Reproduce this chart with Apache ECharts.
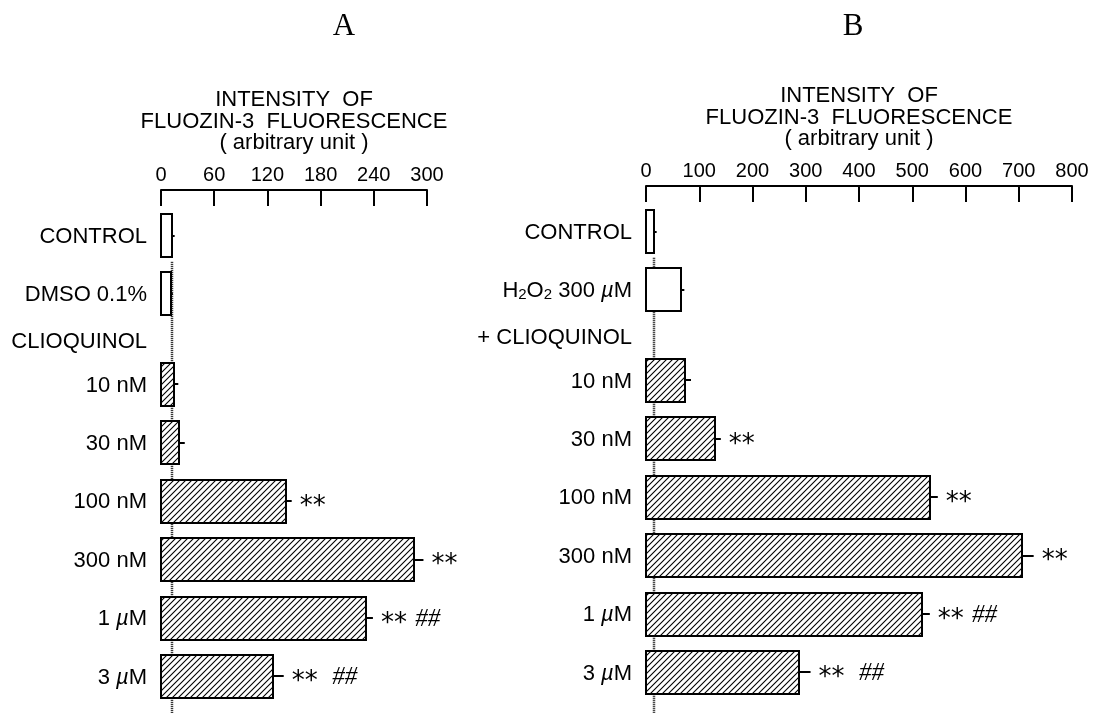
<!DOCTYPE html>
<html>
<head>
<meta charset="utf-8">
<script src="https://cdn.jsdelivr.net/npm/echarts@6/dist/echarts.min.js"></script>
<style>
  html, body { margin: 0; padding: 0; background: #fff; }
  #chart { width: 1094px; height: 713px; }
</style>
</head>
<body>
<div id="chart"></div>
<script>
// ---- Panel A: clioquinol alone ----
const rowsA = ['CONTROL', 'DMSO 0.1%', '10 nM', '30 nM', '100 nM', '300 nM', '1 µM', '3 µM'];
const valuesA = [12, 11, 15, 20, 141, 285, 231, 126];
const errorsA = [3.4, 2.3, 4.5, 6.8, 6.4, 11, 8, 12.4];
const marksA = ['', '', '', '', '**', '**', '** ##', '**  ##'];
const hatchedA = [false, false, true, true, true, true, true, true];
const headerA = 'CLIOQUINOL';
const ticksA = [0, 60, 120, 180, 240, 300];

// ---- Panel B: H2O2 plus clioquinol ----
const rowsB = ['CONTROL', 'H2O2 300 µM', '10 nM', '30 nM', '100 nM', '300 nM', '1 µM', '3 µM'];
const valuesB = [15, 65, 74, 130, 533, 707, 518, 288];
const errorsB = [5, 7, 10.5, 10.5, 15, 21, 15, 21];
const marksB = ['', '', '', '**', '**', '**', '** ##', '**  ##'];
const hatchedB = [false, false, true, true, true, true, true, true];
const headerB = '+ CLIOQUINOL';
const ticksB = [0, 100, 200, 300, 400, 500, 600, 700, 800];

const panelTitles = ['A', 'B'];
const axisTitleLines = ['INTENSITY  OF', 'FLUOZIN-3  FLUORESCENCE', '( arbitrary unit )'];

// ---- layout ----
const W = 1094, H = 713;
const SANS = '"Liberation Sans", Arial, Helvetica, sans-serif';
const SERIF = '"Liberation Serif", "Times New Roman", serif';
const ROW_PX = 58.4;          // pixel height of one row
const Y_MIN = -0.78;          // space between axis line and first row (in rows)
const HALF_BAR = 0.368;       // half bar thickness (in rows)
const HEADER_AFTER = 2;       // the group header sits after the first two rows

// row positions: two control rows, a header line, then the dose rows
function rowPositions(n) {
  const pos = [];
  for (let i = 0; i < n; i++) pos.push(i < HEADER_AFTER ? i : i + 0.55);
  return pos;
}
const HEADER_POS = 1.8;

// diagonal hatch tile
const tile = document.createElement('canvas');
tile.width = 6; tile.height = 6;
(function () {
  const c = tile.getContext('2d');
  c.fillStyle = '#fff'; c.fillRect(0, 0, 6, 6);
  c.strokeStyle = '#000'; c.lineWidth = 1.1;
  c.beginPath();
  c.moveTo(0, 6); c.lineTo(6, 0);
  c.moveTo(-1, 1); c.lineTo(1, -1);
  c.moveTo(5, 7); c.lineTo(7, 5);
  c.stroke();
})();
const hatchFill = { image: tile, repeat: 'repeat' };

const measureCtx = document.createElement('canvas').getContext('2d');
function textWidth(str, font) { measureCtx.font = font; return measureCtx.measureText(str).width; }

const STAR_FONT_SIZE = 26, STAR_FAMILY = '"DejaVu Sans", sans-serif';
const HASH_FONT_SIZE = 25;

function panelDef(rows, values, errors, marks, hatched, header, ticks, left, width, top) {
  return { rows, values, errors, marks, hatched, header, ticks, left, width, top,
           pos: rowPositions(rows.length) };
}
const panels = [
  panelDef(rowsA, valuesA, errorsA, marksA, hatchedA, headerA, ticksA, 161, 266, 190),
  panelDef(rowsB, valuesB, errorsB, marksB, hatchedB, headerB, ticksB, 646, 426, 186)
];

function labelRich(s) {
  return s.replace(/([HO])2/g, '$1{sub|2}').replace(/µ/g, '{mu|µ}');
}

function barRenderer(p) {
  return function (params, api) {
    const i = params.dataIndex;
    const v = api.value(0), y = api.value(1), err = api.value(2);
    const tl = api.coord([0, y - HALF_BAR]);
    const br = api.coord([v, y + HALF_BAR]);
    const c = api.coord([v, y]);
    const e = api.coord([v + err, y]);
    const children = [
      { type: 'rect',
        shape: { x: Math.round(tl[0]), y: Math.round(tl[1]), width: Math.round(br[0] - tl[0]), height: Math.round(br[1] - tl[1]) },
        style: { fill: p.hatched[i] ? hatchFill : '#fff', stroke: '#000', lineWidth: 2 } },
      { type: 'line',
        shape: { x1: c[0], y1: Math.round(c[1]), x2: e[0], y2: Math.round(c[1]) },
        style: { stroke: '#000', lineWidth: 2 } }
    ];
    const mark = p.marks[i];
    if (mark) {
      const stars = (mark.match(/\*+/) || [''])[0];
      const m = mark.match(/\*+(\s*)(#+)/);
      const sx = e[0] + 8;
      const starFont = STAR_FONT_SIZE + 'px ' + STAR_FAMILY;
      children.push({ type: 'text', x: sx, y: c[1] + 6,
        style: { text: stars, fill: '#000', fontSize: STAR_FONT_SIZE, fontFamily: STAR_FAMILY,
                 align: 'left', verticalAlign: 'middle' } });
      if (m) {
        const hashFont = 'italic ' + HASH_FONT_SIZE + 'px ' + SERIF;
        const hx = sx + textWidth(stars, starFont) + textWidth(m[1], hashFont) + 2;
        children.push({ type: 'text', x: hx, y: c[1] + 1,
          style: { text: m[2], fill: '#000', fontSize: HASH_FONT_SIZE, fontFamily: SERIF, fontStyle: 'italic',
                   align: 'left', verticalAlign: 'middle' } });
      }
    }
    return { type: 'group', children };
  };
}

function labelRenderer(p) {
  return function (params, api) {
    const pt = api.coord([0, api.value(1)]);
    const txt = params.dataIndex < p.rows.length ? labelRich(p.rows[params.dataIndex]) : p.header;
    return { type: 'text', x: pt[0] - 14, y: pt[1] + 1,
      style: { text: txt, fill: '#000', fontSize: 22, fontFamily: SANS, align: 'right', verticalAlign: 'middle',
        rich: {
          sub: { fontSize: 15, fontFamily: SANS, fill: '#000', verticalAlign: 'bottom' },
          mu: { fontSize: 22, fontFamily: SANS, fill: '#000', fontStyle: 'italic' }
        } } };
  };
}

function refLineRenderer(p) {
  return function (params, api) {
    const ctrl = api.value(0);
    const a = api.coord([ctrl, p.pos[0] + 0.45]);
    const b = api.coord([ctrl, api.value(1)]);
    const x = Math.round(a[0]);
    return { type: 'line', shape: { x1: x, y1: a[1], x2: x, y2: b[1] },
      style: { stroke: '#111', lineWidth: 2.5, lineDash: [1, 1] } };
  };
}

const grid = [], xAxis = [], yAxis = [], series = [], graphic = [];
panels.forEach((p, k) => {
  const yMax = Y_MIN + (H - p.top) / ROW_PX;
  grid.push({ left: p.left, width: p.width, top: p.top, bottom: 0, containLabel: false });
  xAxis.push({
    gridIndex: k, type: 'value', position: 'top',
    min: p.ticks[0], max: p.ticks[p.ticks.length - 1], interval: p.ticks[1] - p.ticks[0],
    axisLine: { show: true, onZero: false, lineStyle: { color: '#000', width: 2 } },
    axisTick: { show: true, inside: true, length: 16, lineStyle: { color: '#000', width: 2 } },
    axisLabel: { show: true, color: '#000', fontSize: 20, fontFamily: SANS, margin: 5 },
    splitLine: { show: false }
  });
  yAxis.push({ gridIndex: k, type: 'value', inverse: true, min: Y_MIN, max: yMax, show: false });

  // dotted reference at control level, drawn beneath the bars
  series.push({ type: 'custom', xAxisIndex: k, yAxisIndex: k, silent: true, clip: false,
    renderItem: refLineRenderer(p), data: [[p.values[0], yMax]] });
  series.push({ type: 'custom', xAxisIndex: k, yAxisIndex: k, silent: true, clip: false,
    renderItem: barRenderer(p), encode: { x: 0, y: 1 },
    data: p.values.map((v, i) => [v, p.pos[i], p.errors[i]]) });
  series.push({ type: 'custom', xAxisIndex: k, yAxisIndex: k, silent: true, clip: false,
    renderItem: labelRenderer(p),
    data: p.pos.map(y => [0, y]).concat([[0, HEADER_POS]]) });

  const cx = p.left + p.width / 2;
  const titleTop = p.top - 90;
  axisTitleLines.forEach((line, j) => {
    graphic.push({ type: 'text', x: cx, y: titleTop + j * 21.5,
      style: { text: line, fill: '#000', fontSize: 22, fontFamily: SANS, align: 'center', verticalAlign: 'middle' } });
  });
});

graphic.push({ type: 'text', x: 344, y: 27,
  style: { text: panelTitles[0], fill: '#000', fontSize: 31, fontFamily: SERIF, align: 'center', verticalAlign: 'middle' } });
graphic.push({ type: 'text', x: 853, y: 27,
  style: { text: panelTitles[1], fill: '#000', fontSize: 31, fontFamily: SERIF, align: 'center', verticalAlign: 'middle' } });

const chart = echarts.init(document.getElementById('chart'), null, { renderer: 'canvas' });
chart.setOption({
  animation: false,
  backgroundColor: '#fff',
  grid, xAxis, yAxis, series, graphic
});
</script>
</body>
</html>
